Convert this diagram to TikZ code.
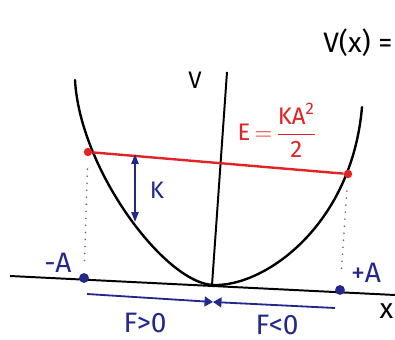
\documentclass[tikz,border=0pt]{standalone}
\usepackage{amsmath}
\usepackage{fontspec}
\setmainfont{Fira Sans}
\usepackage{xcolor}
\usetikzlibrary{arrows.meta}

\definecolor{penred}{RGB}{225,35,35}
\definecolor{penblue}{RGB}{35,40,140}

\begin{document}
\begin{tikzpicture}[x=0.025cm, y=-0.025cm]

% Defined styles
\tikzstyle{curve} = [black, line width=1.7pt, line cap=round]
\tikzstyle{axis} = [black, line width=1.4pt]
\tikzstyle{energy} = [penred, line width=1.7pt]
\tikzstyle{force} = [penblue, line width=1.3pt]
\tikzstyle{arrow} = [force, {Triangle[length=7pt,width=5pt]}-{Triangle[length=7pt,width=5pt]}]
\tikzstyle{push} = [force, -{Triangle[length=6pt,width=7pt]}]
\tikzstyle{dots} = [black!60, line width=1.3pt, line cap=round, dash pattern=on 0pt off 5pt]
\tikzstyle{reddot} = [circle, fill=penred, minimum size=6pt, inner sep=0pt]
\tikzstyle{bluedot} = [circle, fill=penblue, minimum size=7pt, inner sep=0pt]
\tikzstyle{big} = [font=\fontsize{20}{22}\selectfont, inner sep=1pt]
\tikzstyle{mid} = [font=\fontsize{17}{19}\selectfont, inner sep=1pt]

\useasboundingbox (0,0) rectangle (395,340);

% --- Axes ---
\coordinate (xl) at (10,276);
\coordinate (xr) at (395,295);
\coordinate (vt) at (227,72);
\coordinate (vb) at (212,285);
\draw [axis] (xl) -- (xr);
\draw [axis] (vt) -- (vb);
\node[mid] (vlab) at (195,80) {V};
\node[big, anchor=east] (xlab) at (395,311) {x};
\node[big, anchor=east] (vx) at (394,43) {V(x) =};

% --- Potential well ---
\draw [curve] (75,80) .. controls (80,170) and (165,283) .. (213,285)
  .. controls (265,287) and (352,225) .. (362,107);

% --- Energy level ---
\node[reddot] (eL) at (88,152) {};
\node[reddot] (eR) at (348,174) {};
\draw [energy] (eL) -- (eR);
\node[mid, text=penred] (elab) at (277,130)
  {E$\,{=}\,\dfrac{\text{KA}^{\text{2}}}{\text{2}}$};

% --- Kinetic energy ---
\coordinate (kT) at (135,154);
\coordinate (kB) at (135,222);
\draw [arrow] (kT) -- (kB);
\node[mid, text=penblue] (klab) at (157,190) {K};

% --- Turning points ---
\node[bluedot] (aL) at (84,278) {};
\node[bluedot] (aR) at (340,290) {};
\draw [dots, shorten <=9pt, shorten >=8pt] (eL) -- (aL);
\draw [dots, shorten <=9pt, shorten >=8pt] (eR) -- (aR);
\node[big, text=penblue] (mA) at (58,263) {-A};
\node[big, text=penblue] (pA) at (366,273) {+A};

% --- Restoring force ---
\coordinate (fl) at (87,294);
\coordinate (fc) at (213,302);
\coordinate (fr) at (335,308);
\draw [push] (fl) -- (fc);
\draw [push] (fr) -- (fc);
\node[big, text=penblue] (fpos) at (145,323) {F>0};
\node[big, text=penblue] (fneg) at (277,325) {F<0};

\end{tikzpicture}
\end{document}
